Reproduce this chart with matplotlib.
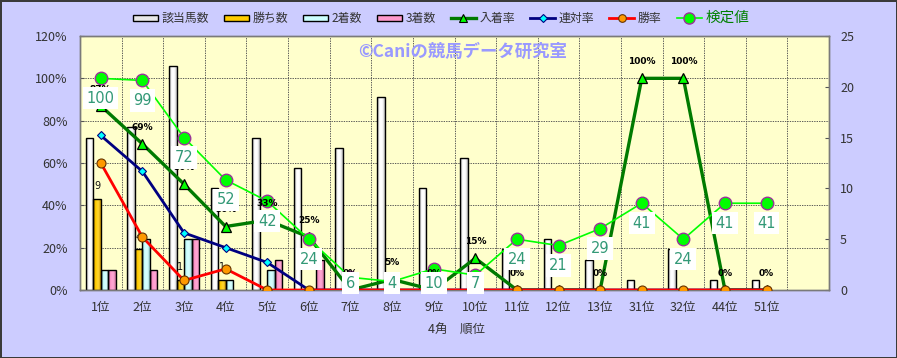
import numpy as np
import matplotlib
matplotlib.use('Agg')
import matplotlib.pyplot as plt
from matplotlib.patches import Patch
from matplotlib.lines import Line2D
from matplotlib.colors import LinearSegmentedColormap
from matplotlib.ticker import FuncFormatter

plt.rcParams['font.family'] = ['Noto Sans CJK JP', 'DejaVu Sans']

# ---------------- data ----------------
categories = ['1位', '2位', '3位', '4位', '5位', '6位', '7位', '8位', '9位', '10位',
              '11位', '12位', '13位', '31位', '32位', '44位', '51位']
n_horses = [15, 16, 22, 10, 15, 12, 14, 19, 10, 13, 4, 5, 3, 1, 4, 1, 1]
wins     = [9, 4, 1, 1, 0, 0, 0, 0, 0, 0, 0, 0, 0, 0, 0, 0, 0]
seconds  = [2, 5, 5, 1, 2, 0, 0, 0, 0, 0, 0, 0, 0, 0, 0, 0, 0]
thirds   = [2, 2, 5, 0, 3, 3, 0, 0, 0, 0, 0, 0, 0, 0, 0, 0, 0]
place_rate    = [87, 69, 50, 30, 33, 25, 0, 5, 0, 15, 0, 0, 0, 100, 100, 0, 0]
quinella_rate = [73, 56, 27, 20, 13, 0, 0, 0, 0, 0, 0, 0, 0, 0, 0, 0, 0]
win_rate      = [60, 25, 4.5, 10, 0, 0, 0, 0, 0, 0, 0, 0, 0, 0, 0, 0, 0]
test_value    = [100, 99, 72, 52, 42, 24, 6, 4, 10, 7, 24, 21, 29, 41, 24, 41, 41]

legend_labels = ['該当馬数', '勝ち数', '2着数', '3着数', '入着率', '連対率', '勝率', '検定値']

# ---------------- figure ----------------
W, H = 897, 358
fig = plt.figure(figsize=(W / 100, H / 100), dpi=100)
fig.patch.set_facecolor('#CCCCFF')
fig.patch.set_edgecolor('#3A3A3A')
fig.patch.set_linewidth(2)

L, R, T, B = 80, 829, 36, 290
axb = fig.add_axes([L / W, 1 - B / H, (R - L) / W, (B - T) / H])
axb.set_facecolor('#FFFFCC')

n = len(categories)
x = np.arange(n)
bw = 0.18
xlim = (-0.5, n + 0.5)

bar_specs = [
    (n_horses, -1.5, ['#9A9A9A', '#FFFFFF', '#FFFFFF', '#BDBDBD']),
    (wins, -0.5, ['#C08A00', '#FFCC00', '#FFD633', '#C89400']),
    (seconds, 0.5, ['#7FBFBF', '#CCFFFF', '#D8FFFF', '#93CFCF']),
    (thirds, 1.5, ['#C0608F', '#FF99CC', '#FFA8D4', '#D0709F']),
]
containers = []
for vals, off, cols in bar_specs:
    cont = axb.bar(x + off * bw, vals, bw, facecolor='none', edgecolor='black',
                   linewidth=1.0, zorder=3)
    cmap = LinearSegmentedColormap.from_list('g', cols)
    grad = np.linspace(0, 1, 64).reshape(1, -1)
    for rect, v in zip(cont, vals):
        if v <= 0:
            rect.set_visible(False)
            continue
        x0, y0 = rect.get_x(), rect.get_y()
        im = axb.imshow(grad, extent=[x0, x0 + rect.get_width(), y0, y0 + rect.get_height()],
                        aspect='auto', cmap=cmap, zorder=2.9, interpolation='bilinear')
        im.set_clip_path(rect)
    containers.append(cont)

axb.set_xlim(*xlim)
axb.set_ylim(0, 25)
axb.set_aspect('auto')

# win count labels
for xi, v in zip(x, wins):
    if v > 0:
        axb.annotate(str(v), (xi - 0.5 * bw, v), xytext=(0, 9), textcoords='offset points',
                     ha='center', va='center', fontsize=7, color='#111111',
                     family='DejaVu Sans', zorder=4)

# grids
axb.set_yticks(np.linspace(0, 25, 7), minor=True)
axb.set_xticks(np.arange(0.5, n + 0.5, 1), minor=True)
axb.grid(which='minor', linestyle=(0, (1.5, 1.2)), color='#505050', linewidth=0.65)
axb.set_axisbelow(True)
axb.tick_params(which='minor', length=0)

axb.set_xticks(x)
axb.set_xticklabels(categories)
axb.tick_params(axis='x', which='major', length=0, pad=8, labelsize=9, labelcolor='#333333')
axb.set_yticks(np.arange(0, 26, 5))

# line axis (percent)
axl = axb.twinx()
axb.yaxis.tick_right()
axb.yaxis.set_label_position('right')
axl.yaxis.tick_left()
axl.yaxis.set_label_position('left')
axb.tick_params(axis='y', which='major', direction='in', length=3, pad=8, labelsize=9,
                labelcolor='#333333', color='#555555', right=True, left=False, labelright=True,
                labelleft=False)
axl.tick_params(axis='y', which='major', direction='in', length=3, pad=9, labelsize=9,
                labelcolor='#333333', color='#555555', left=True, right=False, labelleft=True,
                labelright=False)
axl.set_ylim(0, 120)
axl.set_yticks(np.arange(0, 121, 20))
axl.yaxis.set_major_formatter(FuncFormatter(lambda v, p: f'{int(v)}%'))
axl.set_xlim(*xlim)

for a in (axb, axl):
    for s in a.spines.values():
        s.set_color('#7A7A7A')
        s.set_linewidth(1.0)

axl.plot(x, place_rate, color='#007A00', lw=2.4, marker='^', ms=7.5, mfc='#00FF00',
         mec='black', mew=0.9, zorder=3)
axl.plot(x, quinella_rate, color='#000080', lw=2.0, marker='D', ms=4.5, mfc='#00FFFF',
         mec='#000080', mew=0.8, zorder=4)
axl.plot(x, win_rate, color='#FF0000', lw=2.0, marker='o', ms=6.5, mfc='#FF9900',
         mec='#663300', mew=0.8, zorder=5)
axl.plot(x, test_value, color='#00FF00', lw=1.2, marker='o', ms=9, mfc='#00FF00',
         mec='#993399', mew=1.0, zorder=6)

# place-rate labels
for xi, v in zip(x, place_rate):
    axl.annotate(f'{v}%', (xi, v), xytext=(0, 12), textcoords='offset points',
                 ha='center', va='center', fontsize=6.5, fontweight='bold',
                 color='black', family='DejaVu Sans', zorder=7)

# test-value labels (white boxes, kept inside the plot)
px_per_pct = (B - T) / 120.0
for xi, v in zip(x, test_value):
    ly = max(v - 20 / px_per_pct, 7 / px_per_pct)
    axl.text(xi, ly, str(v), ha='center', va='center', fontsize=10.5, color='#339977',
             family='DejaVu Sans',
             bbox=dict(boxstyle='square,pad=0.25', fc='white', ec='none'), zorder=10)

# watermark
axl.text((463 - L) / (R - L), (B - 52) / (B - T), '©Caniの競馬データ研究室',
         transform=axl.transAxes, ha='center', va='center', fontsize=12.5,
         fontweight='bold', color='#9999FF', zorder=8)

# x axis title
fig.text(457 / W, 1 - 329 / H, '4角　順位', ha='center', va='center', fontsize=9,
         color='#333333')

# legend
handles = [
    Patch(facecolor='#E8E8E8', edgecolor='black', linewidth=1.0),
    Patch(facecolor='#FFCC00', edgecolor='black', linewidth=1.0),
    Patch(facecolor='#CCFFFF', edgecolor='black', linewidth=1.0),
    Patch(facecolor='#FF99CC', edgecolor='black', linewidth=1.0),
    Line2D([], [], color='#007A00', lw=2.4, marker='^', ms=6, mfc='#00FF00', mec='black', mew=0.8),
    Line2D([], [], color='#000080', lw=2.0, marker='D', ms=4, mfc='#00FFFF', mec='#000080', mew=0.8),
    Line2D([], [], color='#FF0000', lw=2.0, marker='o', ms=5.5, mfc='#FF9900', mec='#663300', mew=0.8),
    Line2D([], [], color='#00FF00', lw=1.2, marker='o', ms=8, mfc='#00FF00', mec='#993399', mew=1.0),
]
leg = fig.legend(handles, legend_labels, loc='center', bbox_to_anchor=(441 / W, 1 - 18 / H),
                 ncol=8, frameon=False, fontsize=8.6, handlelength=2.1, handletextpad=0.3,
                 columnspacing=1.25, handleheight=0.45, borderaxespad=0)
for t in leg.get_texts():
    t.set_color('#333333')
leg.get_texts()[-1].set_fontsize(10.5)
leg.get_texts()[-1].set_color('#008000')

fig.savefig('out.png', dpi=100, facecolor=fig.get_facecolor(), edgecolor=fig.get_edgecolor())
